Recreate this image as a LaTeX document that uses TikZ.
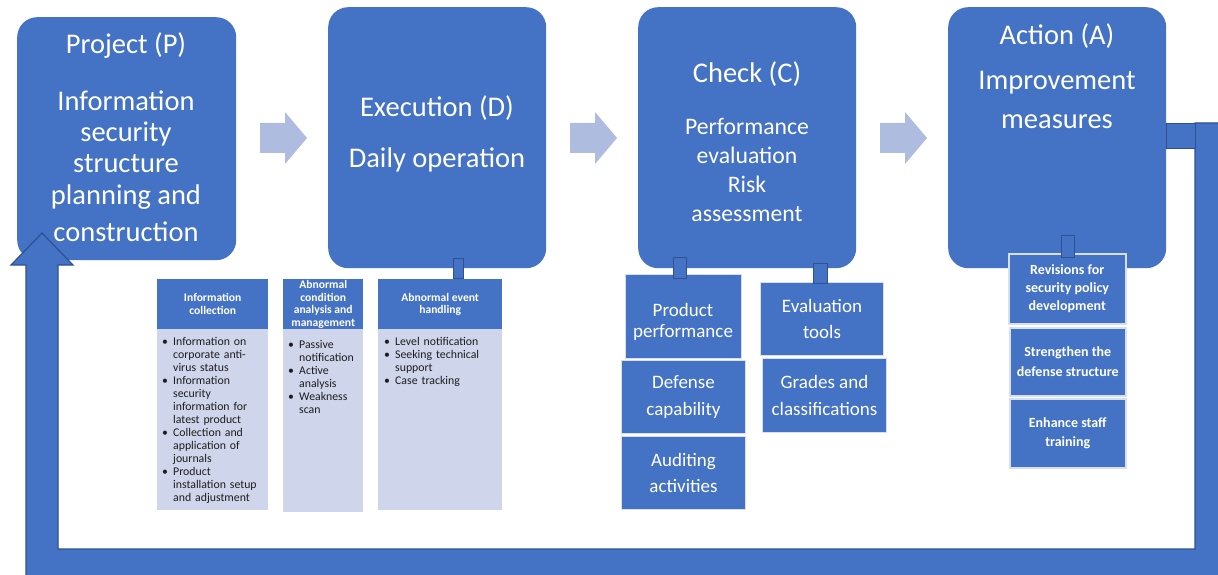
\documentclass[tikz,border=0pt]{standalone}
\usepackage{fontspec}
\setmainfont{Carlito}
\definecolor{mainblue}{HTML}{4472C4}
\definecolor{darkblue}{HTML}{2F528F}
\definecolor{lightarrow}{HTML}{AEBCDF}
\definecolor{tablebody}{HTML}{CFD5EA}
\definecolor{textdark}{HTML}{1E1E1E}
\definecolor{paleedge}{HTML}{D6DEF0}
\newcommand{\bitem}[2][8]{\par\hyphenpenalty=10000\relax\noindent\hangindent=#1pt\hangafter=1\makebox[#1pt][l]{\textbullet}#2}
\tikzset{
  stagebox/.style={fill=mainblue, rounded corners=20pt, inner sep=0pt, anchor=north west},
  stagetext/.style={text=white, align=center, inner sep=0pt},
  pale/.style={fill=lightarrow, draw=none},
  conn/.style={fill=mainblue, draw=darkblue, line width=1pt, inner sep=0pt, anchor=north west},
  subbox/.style={fill=mainblue, draw=paleedge, line width=1pt, inner sep=0pt, anchor=north west, text=white, align=center},
  thead/.style={fill=mainblue, inner sep=0pt, anchor=north west, text=white, align=center, font=\bfseries\fontsize{11.6}{12.5}\selectfont},
  tbody/.style={fill=tablebody, inner sep=0pt, anchor=north west},
  tlist/.style={anchor=north west, inner sep=0pt, align=left, text=textdark, font=\fontsize{11.8}{13}\selectfont},
  loop/.style={fill=mainblue, draw=darkblue, line width=1.2pt, line join=miter}
}
\begin{document}
\begin{tikzpicture}[x=1pt,y=-1pt]
\useasboundingbox (0,0) rectangle (1218,575);
\clip (0,0) rectangle (1218,575);

% stage boxes
\node[stagebox, minimum width=219pt, minimum height=243pt] (P) at (17,17) {};
\node[stagebox, minimum width=218pt, minimum height=261pt] (D) at (328,7) {};
\node[stagebox, minimum width=218pt, minimum height=261pt] (C) at (638,7) {};
\node[stagebox, minimum width=218pt, minimum height=261pt] (A) at (948,7) {};

% stage texts
\node[stagetext, font=\fontsize{28.5}{31}\selectfont] (Pt1) at (126,46) {Project (P)};
\node[stagetext, font=\fontsize{28.5}{31.3}\selectfont] (Pt2) at (126,166) {Information\\security\\structure\\planning and\\[6pt]construction};
\node[stagetext, font=\fontsize{28.5}{31}\selectfont] (Dt1) at (437,108) {Execution (D)};
\node[stagetext, font=\fontsize{28.5}{31}\selectfont] (Dt2) at (437,160) {Daily operation};
\node[stagetext, font=\fontsize{28.5}{31}\selectfont] (Ct1) at (747,74) {Check (C)};
\node[stagetext, font=\fontsize{23.7}{28.7}\selectfont] (Ct2) at (747,170) {Performance\\evaluation\\Risk\\assessment};
\node[stagetext, font=\fontsize{28.5}{31}\selectfont] (At1) at (1057,36) {Action (A)};
\node[stagetext, font=\fontsize{28.5}{39}\selectfont] (At2) at (1057,100) {Improvement\\measures};

% pale block arrows
\draw[pale] (260,123) -- (285,123) -- (285,112) -- (307,138) -- (285,164) -- (285,153) -- (260,153) -- cycle;
\draw[pale] (570,123) -- (595,123) -- (595,112) -- (617,138) -- (595,164) -- (595,153) -- (570,153) -- cycle;
\draw[pale] (880,123) -- (905,123) -- (905,112) -- (927,138) -- (905,164) -- (905,153) -- (880,153) -- cycle;

% tables under P / D
\node[thead, minimum width=111pt, minimum height=50pt] (ICh) at (157,279) {Information\\collection};
\node[tbody, minimum width=111pt, minimum height=181pt] (ICb) at (157,329) {};
\node[tlist, text width=99pt] (ICl) at (162,332) {%
\bitem[11]{Information on corporate anti-virus status}%
\bitem[11]{Information security information for latest product}%
\bitem[11]{Collection and application of journals}%
\bitem[11]{Product installation setup and adjustment}\par};

\node[thead, minimum width=80pt, minimum height=50pt] (ACh) at (283,279) {Abnormal\\condition\\analysis and\\management};
\node[tbody, minimum width=80pt, minimum height=183pt] (ACb) at (283,329) {};
\node[tlist, text width=75pt] (ACl) at (288,335) {%
\bitem[11]{Passive notification}%
\bitem[11]{Active analysis}%
\bitem[11]{Weakness scan}\par};

\node[thead, minimum width=124pt, minimum height=50pt] (AEh) at (378,279) {Abnormal event\\handling};
\node[tbody, minimum width=124pt, minimum height=181pt] (AEb) at (378,329) {};
\node[tlist, text width=112pt] (AEl) at (384,332) {%
\bitem[11]{Level notification}%
\bitem[11]{Seeking technical support}%
\bitem[11]{Case tracking}\par};

% sub boxes under C
\node[subbox, minimum width=116pt, minimum height=84pt] (C1) at (625,274) {};
\node[stagetext, font=\fontsize{19}{21}\selectfont] (C1t) at (683,322) {Product\\performance};
\node[subbox, minimum width=124pt, minimum height=73pt, font=\fontsize{19}{26.5}\selectfont] (C2) at (621,360) {Defense\\capability};
\node[subbox, minimum width=124pt, minimum height=73pt, font=\fontsize{19}{26.5}\selectfont] (C3) at (621,436) {Auditing\\activities};
\node[subbox, minimum width=123pt, minimum height=73pt, font=\fontsize{19}{26.5}\selectfont] (C4) at (760,282) {Evaluation\\tools};
\node[subbox, minimum width=124pt, minimum height=74pt, font=\fontsize{19}{26.5}\selectfont] (C5) at (762,358) {Grades and\\classifications};

% sub boxes under A
\node[subbox, line width=1.5pt, minimum width=117pt, minimum height=70pt, font=\bfseries\fontsize{14}{18}\selectfont] (A1) at (1008,253) {Revisions for\\security policy\\development};
\node[subbox, line width=1.5pt, minimum width=116pt, minimum height=68pt, font=\bfseries\fontsize{14}{20}\selectfont] (A2) at (1009,327) {Strengthen the\\defense structure};
\node[subbox, line width=1.5pt, minimum width=116pt, minimum height=69pt, font=\bfseries\fontsize{14}{19}\selectfont] (A3) at (1009,398) {Enhance staff\\training};

% small connector tabs
\node[conn, minimum width=10pt, minimum height=20pt] (Dc) at (453,258) {};
\node[conn, minimum width=13pt, minimum height=21pt] (Cc1) at (673,257) {};
\node[conn, minimum width=14pt, minimum height=20pt] (Cc2) at (813,263) {};
\node[conn, minimum width=13pt, minimum height=22pt] (Ac) at (1061,235) {};

% feedback loop from A back to P
\coordinate (loopR) at (1195,123);
\coordinate (loopTip) at (42,233);
\draw[loop] (loopR) -- (1240,123) -- (1240,600) -- (26,600) -- (26,265) -- (11,265) -- (loopTip) -- (73,265) -- (58,265) -- (58,549) -- (1195,549) -- cycle;
\node[conn, minimum width=29pt, minimum height=25pt] (Ar) at (1166,123) {};
\end{tikzpicture}
\end{document}
